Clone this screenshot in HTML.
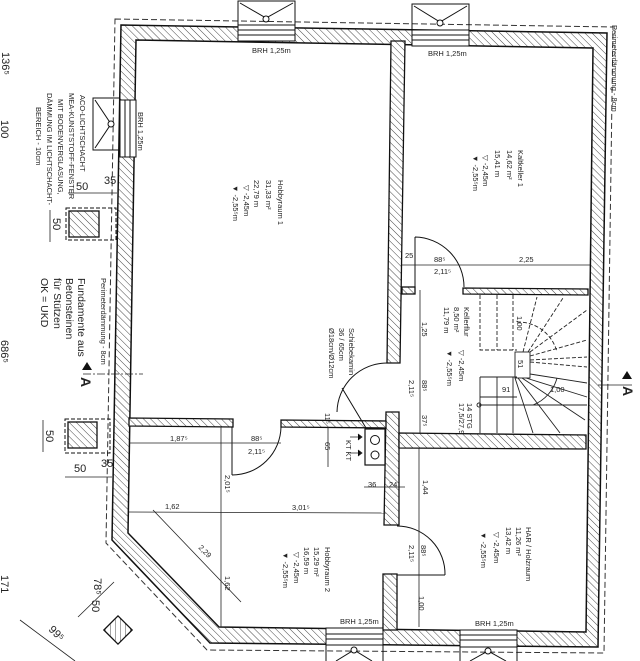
<!DOCTYPE html>
<html><head><meta charset="utf-8"><style>
html,body{margin:0;padding:0;background:#fff}
svg{display:block}
text{font-family:"Liberation Sans Narrow","Liberation Sans",sans-serif;fill:#222}
</style></head><body>
<svg width="640" height="661" viewBox="0 0 640 661" xmlns="http://www.w3.org/2000/svg">
<defs>
<pattern id="h" width="5" height="5" patternUnits="userSpaceOnUse" patternTransform="rotate(-45)">
<rect width="5" height="5" fill="#fff"/><line x1="0" y1="0" x2="0" y2="5" stroke="#333" stroke-width="0.9"/>
</pattern>
</defs>
<rect width="640" height="661" fill="#fff"/>

<path d="M115,19 L613,27 L604,653 L207,650 L106,543 Z" fill="none" stroke="#333" stroke-width="1" stroke-dasharray="6,3"/>

<path fill-rule="evenodd" fill="url(#h)" stroke="#111" stroke-width="1.5"
 d="M121,25 L607,33 L598,647 L210,643 L112,540 Z M136,40 L593,48 L586,632 L219,627 L128,533 Z"/>

<g fill="#fff" stroke="#111" stroke-width="1">
<rect x="238" y="25" width="57" height="16"/><line x1="238" y1="30" x2="295" y2="30"/><line x1="238" y1="35" x2="295" y2="35"/>
<rect x="412" y="30" width="57" height="16"/><line x1="412" y1="35" x2="469" y2="35"/><line x1="412" y1="40" x2="469" y2="40"/>
<rect x="120" y="100" width="16" height="57"/><line x1="125" y1="100" x2="125" y2="157"/><line x1="130" y1="100" x2="130" y2="157"/>
<rect x="326" y="628" width="57" height="17"/><line x1="326" y1="634" x2="383" y2="634"/><line x1="326" y1="639" x2="383" y2="639"/>
<rect x="460" y="630" width="57" height="17"/><line x1="460" y1="635" x2="517" y2="635"/><line x1="460" y1="640" x2="517" y2="640"/>
</g>
<g fill="none" stroke="#111" stroke-width="1">
<path d="M238,25 L238,1 L295,1 L295,25 M240,3 L266,18 L293,3"/><circle cx="266" cy="19" r="3" fill="#fff"/>
<path d="M412,30 L412,4 L469,4 L469,30 M414,6 L440,22 L467,6"/><circle cx="440" cy="23" r="3" fill="#fff"/>
<path d="M120,98 L93,98 L93,150 L120,150 M95,100 L111,124 L95,148"/><circle cx="111" cy="124" r="3" fill="#fff"/>
<path d="M326,645 L326,661 M383,645 L383,661 M336,661 L354,650 L372,661"/><circle cx="354" cy="650" r="3" fill="#fff"/>
<path d="M460,647 L460,661 M517,647 L517,661 M470,661 L488,651 L506,661"/><circle cx="488" cy="651" r="3" fill="#fff"/>
</g>

<g fill="url(#h)" stroke="#111" stroke-width="1.3">
<polygon points="391,41 405,41 400,363 387,363"/>
<polygon points="386,412 399,412 399,525 384,525"/>
<polygon points="383,574 397,574 397,630 383,630"/>
<polygon points="129,418 233,419 233,427 129,426"/>
<polygon points="281,420 386,421 386,428 281,427"/>
<polygon points="399,433 586,435 586,449 399,448"/>
<polygon points="463,288 588,289 588,295 463,294"/>
<rect x="402" y="287" width="13" height="7"/>
</g>

<rect x="365" y="429" width="20" height="36" fill="#fff" stroke="#111" stroke-width="1.2"/>
<circle cx="375" cy="440" r="4.5" fill="none" stroke="#111"/>
<circle cx="375" cy="455" r="4" fill="none" stroke="#111"/>

<g fill="none" stroke="#111" stroke-width="1">
<path d="M415,237 L415,287 M415,237 A50,50 0 0 1 464,287"/>
<path d="M387,363 A50,50 0 0 0 337,412 M342,388 L366,428"/>
<path d="M232,427 L232,475 M232,475 A49,49 0 0 0 281,427"/>
<path d="M397,575 L445,575 M397,526 A48,48 0 0 1 445,575"/>
</g>

<g fill="none" stroke="#222" stroke-width="0.9">
<rect x="515" y="352" width="15" height="26"/>
<g stroke-dasharray="4,2">
<path d="M480,295 L480,350 L517,350 M497,295 L497,350 M513,295 L513,350"/>
<path d="M530,352 L587,310 M530,356 L587,340 M530,360 L587,357 M530,362 L587,367 M528,352 L563,298 M523,352 L537,297"/>
<path d="M517,322 A40,40 0 0 1 557,352"/>
</g>
<path d="M480,377 L517,377 M480,377 L480,433 M480,397 L517,397 M497,377 L497,433 M513,377 L513,433"/>
<path d="M515,378 L533,433 M518,378 L560,433 M522,378 L585,420 M526,378 L587,397 M530,374 L587,383"/>
<path d="M557,378 A40,40 0 0 1 533,405"/>
<path d="M479,405 L587,405"/><circle cx="479" cy="405" r="2"/>
</g>

<g stroke="#222" stroke-width="0.8" fill="none">
<line x1="402" y1="265" x2="590" y2="265"/>
<line x1="420" y1="290" x2="420" y2="433"/>
<line x1="129" y1="443" x2="281" y2="443"/>
<line x1="129" y1="512" x2="386" y2="513"/>
<line x1="153" y1="510" x2="241" y2="602"/>
<line x1="221" y1="427" x2="221" y2="627"/>
<line x1="419" y1="448" x2="419" y2="627"/>
<line x1="328" y1="427" x2="328" y2="467"/>
<line x1="364" y1="487" x2="405" y2="487"/>
<line x1="83" y1="374" x2="143" y2="374" stroke-dasharray="8,2,2,2"/>
<line x1="598" y1="385" x2="632" y2="385"/>
<line x1="43" y1="420" x2="43" y2="452"/>
<line x1="65" y1="477" x2="112" y2="477"/>
<line x1="50" y1="210" x2="50" y2="242"/>
<line x1="68" y1="193" x2="117" y2="193"/>
<line x1="78" y1="617" x2="114" y2="582"/>
<line x1="20" y1="620" x2="75" y2="661"/>
</g>
<g stroke="#222" stroke-width="0.8">
<path d="M350,437 L362,437 M350,453 L362,453 M358,434 L362,437 L358,440 M358,450 L362,453 L358,456"/>
</g>

<g fill="none" stroke="#111">
<rect x="65" y="419" width="45" height="34" stroke-dasharray="4,2"/>
<rect x="68" y="422" width="29" height="26" fill="url(#h)" stroke-width="1.3"/>
<rect x="66" y="208" width="50" height="32" stroke-dasharray="4,2"/>
<rect x="69" y="211" width="30" height="26" fill="url(#h)" stroke-width="1.3"/>
<rect x="108" y="620" width="20" height="20" fill="url(#h)" stroke-width="1.3" transform="rotate(45 118 630)"/>
</g>
<polygon points="87,362 82,370 92,370" fill="#111"/>
<polygon points="627,371 622,379 632,379" fill="#111"/>
<text x="79" y="387" font-size="14" font-weight="bold" transform="rotate(90 85 383)">A</text>
<text x="621" y="396" font-size="14" font-weight="bold" transform="rotate(90 627 392)">A</text>

<g font-size="7.5">
<text transform="translate(278,180) rotate(90)">Hobbyraum 1</text>
<text transform="translate(266,180) rotate(90)">31,33 m²</text>
<text transform="translate(254,180) rotate(90)">22,79 m</text>
<text transform="translate(244,185) rotate(90)">▽  -2,45m</text>
<text transform="translate(233,185) rotate(90)">▼  -2,55⁵m</text>

<text transform="translate(518,150) rotate(90)">Kaltkeller 1</text>
<text transform="translate(507,150) rotate(90)">14,62 m²</text>
<text transform="translate(495,150) rotate(90)">15,41 m</text>
<text transform="translate(483,155) rotate(90)">▽  -2,45m</text>
<text transform="translate(473,155) rotate(90)">▼  -2,55⁵m</text>

<text transform="translate(464,307) rotate(90)">Kellerflur</text>
<text transform="translate(454,307) rotate(90)">8,50 m²</text>
<text transform="translate(444,307) rotate(90)">11,79 m</text>
<text transform="translate(459,350) rotate(90)">▽  -2,45m</text>
<text transform="translate(447,350) rotate(90)">▼  -2,55⁵m</text>
<text transform="translate(467,403) rotate(90)">14 STG</text>
<text transform="translate(459,403) rotate(90)">17,5/27,9</text>

<text transform="translate(325,547) rotate(90)">Hobbyraum 2</text>
<text transform="translate(314,547) rotate(90)">15,29 m²</text>
<text transform="translate(304,547) rotate(90)">16,59 m</text>
<text transform="translate(294,552) rotate(90)">▽  -2,45m</text>
<text transform="translate(283,552) rotate(90)">▼  -2,55⁵m</text>

<text transform="translate(526,527) rotate(90)">HAR / Holzraum</text>
<text transform="translate(516,527) rotate(90)">11,26 m²</text>
<text transform="translate(506,527) rotate(90)">13,42 m</text>
<text transform="translate(494,532) rotate(90)">▽  -2,45m</text>
<text transform="translate(481,532) rotate(90)">▼  -2,55⁵m</text>

<text transform="translate(349,328) rotate(90)">Schiebekamin</text>
<text transform="translate(339,328) rotate(90)">36 / 65cm</text>
<text transform="translate(329,328) rotate(90)">Ø18cm/Ø12cm</text>
<text transform="translate(346,440) rotate(90)">KT  KT</text>

<text transform="translate(612,25) rotate(90)">Perimeterdämmung - 8cm</text>
<text transform="translate(101,278) rotate(90)">Perimeterdämmung - 8cm</text>
<text transform="translate(138,112) rotate(90)">BRH 1,25m</text>
</g>

<g font-size="7.5">
<text x="252" y="53">BRH 1,25m</text>
<text x="428" y="56">BRH 1,25m</text>
<text x="340" y="624">BRH 1,25m</text>
<text x="475" y="626">BRH 1,25m</text>
<text x="405" y="258">25</text>
<text x="434" y="262">88⁵</text>
<text x="434" y="274">2,11⁵</text>
<text x="519" y="262">2,25</text>
<text x="170" y="441">1,87⁵</text>
<text x="251" y="441">88⁵</text>
<text x="248" y="454">2,11⁵</text>
<text x="165" y="509">1,62</text>
<text x="292" y="510">3,01⁵</text>
<text x="368" y="487">36</text>
<text x="389" y="487">24</text>
</g>
<g font-size="7.5">
<text transform="translate(422,322) rotate(90)">1,25</text>
<text transform="translate(422,380) rotate(90)">88⁵</text>
<text transform="translate(409,380) rotate(90)">2,11⁵</text>
<text transform="translate(422,415) rotate(90)">37⁵</text>
<text transform="translate(225,475) rotate(90)">2,01⁵</text>
<text transform="translate(225,576) rotate(90)">1,62</text>
<text transform="translate(423,480) rotate(90)">1,44</text>
<text transform="translate(409,545) rotate(90)">2,11⁵</text>
<text transform="translate(421,545) rotate(90)">88⁵</text>
<text transform="translate(419,596) rotate(90)">1,00</text>
<text transform="translate(517,316) rotate(90)">1,00</text>
<text transform="translate(518,360) rotate(90)">51</text>
<text transform="translate(325,413) rotate(90)">11⁵</text>
<text transform="translate(325,442) rotate(90)">65</text>
<text transform="translate(198,548) rotate(45)">2,29</text>
<text x="502" y="392">91</text>
<text x="550" y="392">1,00</text>
</g>

<g font-size="11">
<text transform="translate(46,430) rotate(90)">50</text>
<text x="74" y="472">50</text>
<text x="101" y="467">35</text>
<text transform="translate(53,218) rotate(90)">50</text>
<text x="76" y="190">50</text>
<text x="104" y="184">35</text>
<text transform="translate(2,52) rotate(90)">136⁵</text>
<text transform="translate(1,120) rotate(90)">100</text>
<text transform="translate(1,340) rotate(90)">686⁵</text>
<text transform="translate(1,575) rotate(90)">171</text>
<text transform="translate(94,578) rotate(90)">78⁵</text>
<text transform="translate(92,600) rotate(90)">50</text>
<text transform="translate(48,630) rotate(45)">99⁵</text>
</g>
<g font-size="7.5">
<text transform="translate(80,95) rotate(90)">ACO-LICHTSCHACHT</text>
<text transform="translate(69,93) rotate(90)">MEA-KUNSTSTOFF-FENSTER</text>
<text transform="translate(58,99) rotate(90)">MIT BODENVERGLASUNG,</text>
<text transform="translate(47,93) rotate(90)">DÄMMUNG IM LICHTSCHACHT-</text>
<text transform="translate(36,107) rotate(90)">BEREICH - 10cm</text>
</g>
<g font-size="10.5">
<text transform="translate(78,278) rotate(90)">Fundamente aus</text>
<text transform="translate(66,278) rotate(90)">Betonsteinen</text>
<text transform="translate(54,278) rotate(90)">für Stützen</text>
<text transform="translate(41,278) rotate(90)">OK = UKD</text>
</g>
</svg>
</body></html>
